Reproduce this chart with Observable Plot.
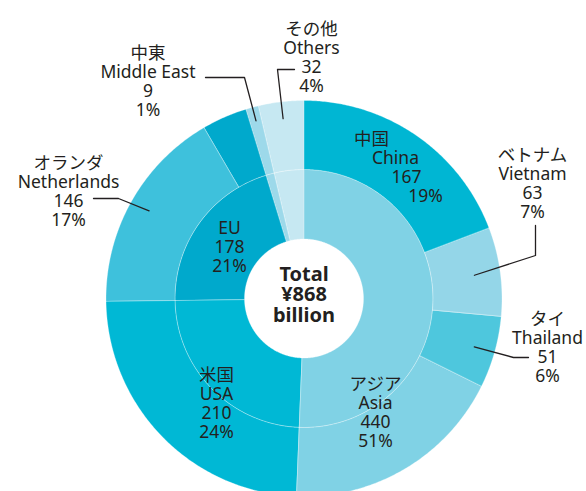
<!DOCTYPE html>
<html><head><meta charset="utf-8">
<script src="https://cdn.jsdelivr.net/npm/d3@7"></script>
<script src="https://cdn.jsdelivr.net/npm/@observablehq/plot@0.6"></script>
<style>body{margin:0;background:#fff}</style>
</head><body><div id="chart"></div>
<script>
// ---- data ----
const innerKeys   = ["Asia","USA","EU","Middle East","Others"];
const innerJa     = ["アジア","米国","","中東","その他"];
const innerValues = [440,210,178,9,32];
const innerPct    = ["51%","24%","21%","1%","4%"];

const outerKeys   = ["China","Vietnam","Thailand","Asia other","USA","Netherlands","EU other","Middle East","Others"];
const outerEn     = ["China","Vietnam","Thailand","","USA","Netherlands","","Middle East","Others"];
const outerJa     = ["中国","ベトナム","タイ","","米国","オランダ","","中東","その他"];
const outerValues = [167,63,51,159,210,146,32,9,32];
const outerPct    = ["19%","7%","6%","","24%","17%","","1%","4%"];

const totalLines  = ["Total","¥868","billion"];

// ---- styles / layout ----
const colors = {
  "Asia":"#80d2e5","Asia other":"#80d2e5","USA":"#00b8d5","EU":"#00a9cc","EU other":"#00a9cc",
  "China":"#00b6d3","Vietnam":"#94d6e8","Thailand":"#4ec7dd","Netherlands":"#3ec1dc",
  "Middle East":"#9dd9ea","Others":"#c6e8f2"
};
const W = 586, H = 491, CX = 303.5, CY = 298;
const R0 = 59.5, R1 = 129, R2 = 198;
const FONT = "'Noto Sans','Noto Sans CJK JP',sans-serif";
const INK = "#231f20";
const FS = 17.5, LH = 19.2;

const px = p => p - CX, py = p => CY - p;

function slices(keys, values) {
  const tot = d3.sum(values);
  let acc = 0;
  return keys.map((k, i) => {
    const a0 = acc / tot * 2 * Math.PI;
    acc += values[i];
    const a1 = acc / tot * 2 * Math.PI;
    return {key: k, i, a0, a1, mid: (a0 + a1) / 2};
  });
}
function poly(a0, a1, r0, r1) {
  const n = Math.max(2, Math.ceil((a1 - a0) / (Math.PI / 360)));
  const pts = [];
  for (let j = 0; j <= n; j++) { const a = a0 + (a1 - a0) * j / n; pts.push({x: r1 * Math.sin(a), y: r1 * Math.cos(a)}); }
  for (let j = n; j >= 0; j--) { const a = a0 + (a1 - a0) * j / n; pts.push({x: r0 * Math.sin(a), y: r0 * Math.cos(a)}); }
  return pts;
}

const inner = slices(innerKeys, innerValues);
const outer = slices(outerKeys, outerValues);

const marks = [];
for (const s of inner) marks.push(Plot.line(poly(s.a0, s.a1, R0, R1), {x:"x", y:"y", curve:"linear-closed", fill: colors[s.key], stroke:"white", strokeWidth:0.6, strokeOpacity:0.5}));
for (const s of outer) marks.push(Plot.line(poly(s.a0, s.a1, R1, R2), {x:"x", y:"y", curve:"linear-closed", fill: colors[s.key], stroke:"white", strokeWidth:0.6, strokeOpacity:0.5}));

// leader lines: start at slice mid-angle, then elbow points (page px)
const leaderLayout = {
  "Others":      {r:181, pts:[[277,69],[294,69]]},
  "Middle East": {r:184, pts:[[244,77],[205,77]]},
  "Netherlands": {r:178, pts:[[118,198],[93,198]]},
  "Vietnam":     {r:172, pts:[[535,255],[535,225]]},
  "Thailand":    {r:177, pts:[[513,357],[528,357]]}
};
const leaderData = [];
for (const s of outer) {
  const L = leaderLayout[s.key];
  if (!L) continue;
  leaderData.push({k: s.key, x: L.r * Math.sin(s.mid), y: L.r * Math.cos(s.mid)});
  for (const [a, b] of L.pts) leaderData.push({k: s.key, x: px(a), y: py(b)});
}
marks.push(Plot.line(leaderData, {x:"x", y:"y", z:"k", stroke: INK, strokeWidth: 1.3}));

// label layout: first-line y and x (page px); China lines are staggered
const labelLayout = {
  outer: {
    "Others":      {y: 28,  x: 311},
    "Middle East": {y: 52,  x: 147.5},
    "Netherlands": {y: 162, x: 68},
    "Vietnam":     {y: 154, x: 532},
    "Thailand":    {y: 318, x: 547},
    "China":       {y: 138, xs:[371,395,406,425]}
  },
  inner: {
    "EU":   {y: 227, x: 229},
    "USA":  {y: 374, x: 216},
    "Asia": {y: 383, x: 375}
  }
};
const textData = [];
function addLabel(L, lines) {
  if (L.xs) {
    lines.forEach((t, j) => textData.push({x: px(L.xs[j]), y: py(L.y + j * LH), t}));
  } else {
    textData.push({x: px(L.x), y: py(L.y + (lines.length - 1) * LH / 2), t: lines.join("\n")});
  }
}
outer.forEach(s => {
  const L = labelLayout.outer[s.key]; if (!L) return;
  addLabel(L, [outerJa[s.i], outerEn[s.i], String(outerValues[s.i]), outerPct[s.i]].filter(d => d));
});
inner.forEach(s => {
  const L = labelLayout.inner[s.key]; if (!L) return;
  addLabel(L, [innerJa[s.i], s.key, String(innerValues[s.i]), innerPct[s.i]].filter(d => d));
});
marks.push(Plot.text(textData, {x:"x", y:"y", text:"t", fill: INK, fontSize: FS, lineHeight: LH / FS, fontFamily: FONT}));

marks.push(Plot.text([totalLines.join("\n")], {x: 0, y: py(294), text: d => d, fill: INK, fontSize: 20, lineHeight: 1.03, fontWeight: "bold", fontFamily: FONT}));

const chart = Plot.plot({
  width: W, height: H, margin: 0,
  x: {domain: [-CX, W - CX], axis: null},
  y: {domain: [CY - H, CY], axis: null},
  style: {fontFamily: FONT, background: "white", overflow: "visible"},
  marks
});
document.getElementById("chart").appendChild(chart);
</script>
</body></html>
